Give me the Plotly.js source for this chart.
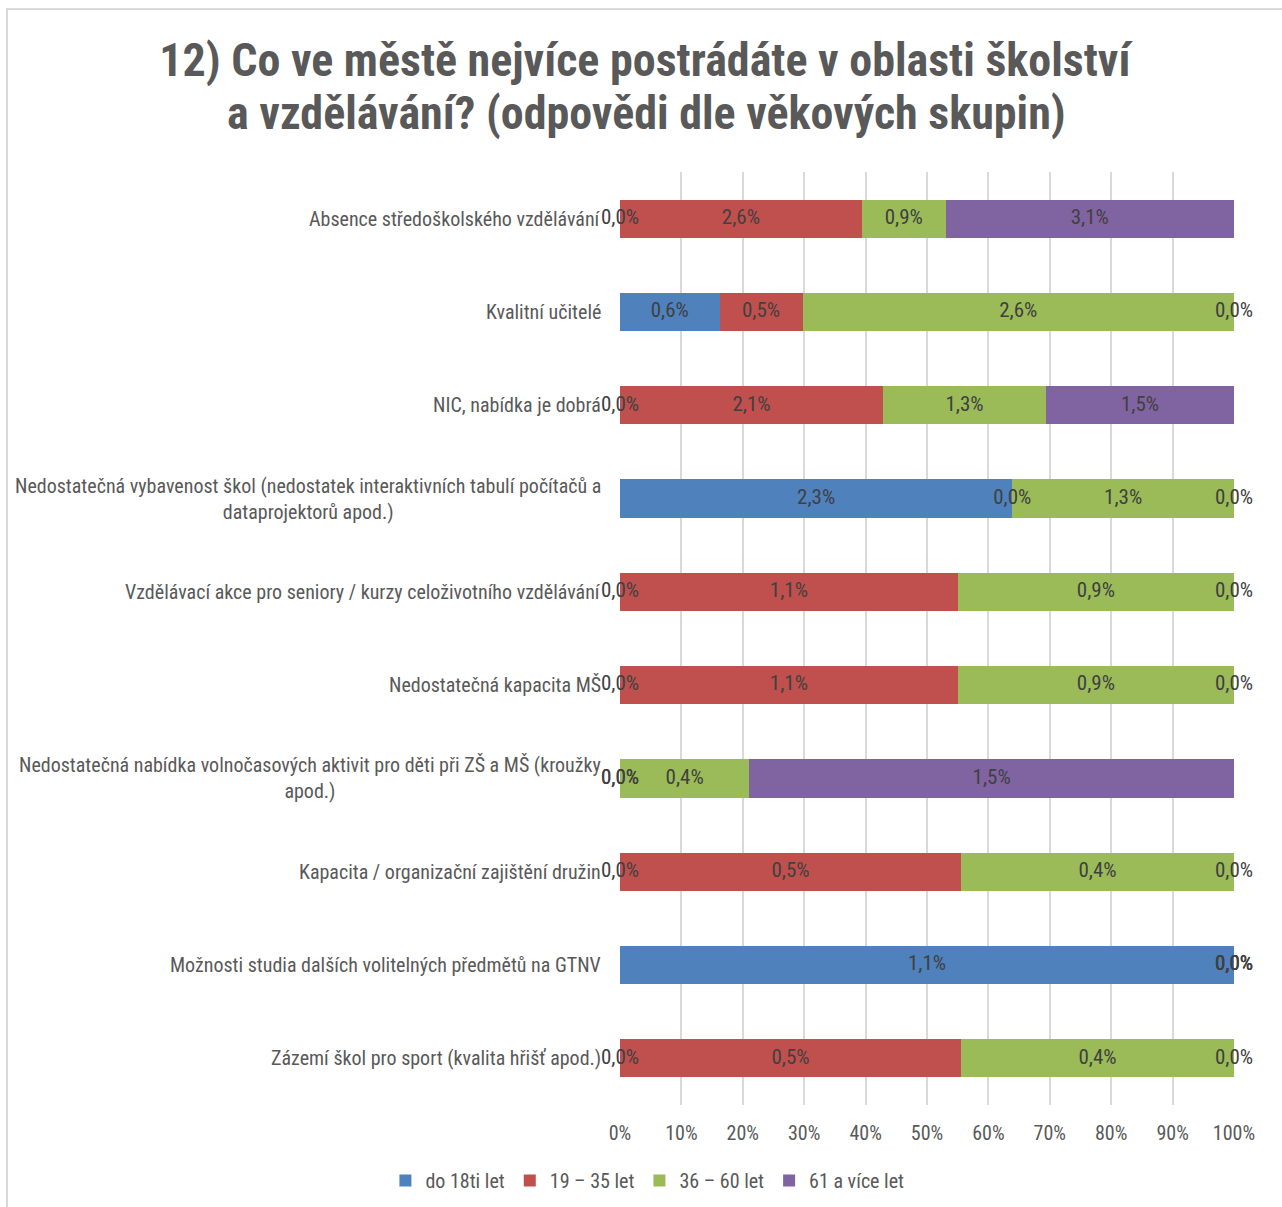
<!DOCTYPE html>
<html>
<head>
<meta charset="utf-8">
<script src="https://cdn.plot.ly/plotly-3.0.1.min.js"></script>
<style>
  body { margin: 0; background: #fff; }
  #frame { position: absolute; left: 6px; top: 8px; width: 1400px; height: 1400px;
           border-left: 2px solid #d9d9d9; border-top: 2px solid #d9d9d9; }
  #chart { position: absolute; left: 0; top: 0; width: 1282px; height: 1207px; }
</style>
</head>
<body>
<div id="frame"></div>
<div id="chart"></div>
<script>
// Q12 — what people miss in schooling / education, split by age group (100 % stacked)
const TITLE_LINES = [
  "12) Co ve městě nejvíce postrádáte v oblasti školství",
  "a vzdělávání? (odpovědi dle věkových skupin)",
];
const CATEGORIES = [
  "Absence středoškolského vzdělávání",
  "Kvalitní učitelé",
  "NIC, nabídka je dobrá",
  "Nedostatečná vybavenost škol (nedostatek interaktivních tabulí počítačů a<br>dataprojektorů apod.)",
  "Vzdělávací akce pro seniory / kurzy celoživotního vzdělávání",
  "Nedostatečná kapacita MŠ",
  "Nedostatečná nabídka volnočasových aktivit pro děti při ZŠ a MŠ (kroužky<br>apod.)",
  "Kapacita / organizační zajištění družin",
  "Možnosti studia dalších volitelných předmětů na GTNV",
  "Zázemí škol pro sport (kvalita hřišť apod.)",
];
const GROUPS = ["do 18ti let", "19 – 35 let", "36 – 60 let", "61 a více let"];
const COLORS = ["#4f81bd", "#c0504d", "#9bbb59", "#8064a2"];

// values in % of respondents, one array per age group
const UNDER18 = [0.0, 0.6, 0.0, 2.3, 0.0, 0.0, 0.0, 0.0, 1.1, 0.0];
const AGE19_35 = [2.6, 0.5, 2.1, 0.0, 1.1, 1.1, 0.0, 0.5, 0.0, 0.5];
const AGE36_60 = [0.9, 2.6, 1.3, 1.3, 0.9, 0.9, 0.4, 0.4, 0.0, 0.4];
const AGE61 = [3.1, 0.0, 1.5, 0.0, 0.0, 0.0, 1.5, 0.0, 0.0, 0.0];
const SERIES = [UNDER18, AGE19_35, AGE36_60, AGE61];

const NARROW = '"Liberation Sans Narrow", "Arial Narrow", "Roboto Condensed", sans-serif';
const fmt = v => v.toFixed(1).replace(".", ",") + "%";

const traces = SERIES.map((vals, i) => ({
  type: "bar", orientation: "h", name: GROUPS[i],
  y: CATEGORIES, x: vals,
  marker: { color: COLORS[i] },
  hoverinfo: "skip",
}));

// data labels: centre of each normalised segment (zero segments sit on the boundary)
const totals = CATEGORIES.map((_, j) => SERIES.reduce((s, arr) => s + arr[j], 0));
const labelX = [], labelY = [], labelT = [];
CATEGORIES.forEach((c, j) => {
  let cum = 0;
  SERIES.forEach(arr => {
    const w = arr[j] / totals[j] * 100;
    labelX.push(cum + w / 2);
    labelY.push(c);
    labelT.push(fmt(arr[j]));
    cum += w;
  });
});
traces.push({
  type: "scatter", mode: "text", x: labelX, y: labelY, text: labelT,
  textfont: { family: NARROW, size: 21, color: "#404040" },
  showlegend: false, hoverinfo: "skip", cliponaxis: false,
});

const annotations = CATEGORIES.map(c => ({
  xref: "paper", yref: "y", x: 0, y: c, xanchor: "right", yanchor: "middle",
  xshift: -17, text: c, showarrow: false, align: "center",
  font: { family: NARROW, size: 20, color: "#595959" },
}));

// second title line as its own annotation so the line spacing matches
annotations.push({
  xref: "paper", yref: "paper", x: 0, y: 1, xanchor: "center", yanchor: "middle",
  xshift: 646 - 620, yshift: 172 - 113, text: TITLE_LINES[1], showarrow: false,
  font: { family: NARROW, size: 46, color: "#595959", weight: "bold" },
});

const layout = {
  width: 1282, height: 1207,
  paper_bgcolor: "rgba(0,0,0,0)", plot_bgcolor: "rgba(0,0,0,0)",
  margin: { l: 620, r: 48, t: 172, b: 102 },
  font: { family: NARROW, color: "#595959" },
  title: {
    text: TITLE_LINES[0],
    font: { family: NARROW, size: 46, color: "#595959", weight: "bold" },
    x: 0.503, xanchor: "center", y: 1 - 60 / 1207, yanchor: "middle",
  },
  barmode: "stack", barnorm: "percent", bargap: 0.59,
  xaxis: {
    range: [0, 100], dtick: 10, ticksuffix: "%",
    showgrid: true, gridcolor: "#d9d9d9", gridwidth: 2,
    zeroline: false, showline: false, ticks: "", ticklabelstandoff: 14,
    tickfont: { family: NARROW, size: 20, color: "#595959" },
  },
  yaxis: {
    autorange: "reversed", showticklabels: false, showgrid: false,
    zeroline: false, showline: false, ticks: "",
  },
  legend: {
    orientation: "h", xref: "container", yref: "container", traceorder: "normal",
    x: 0.505, xanchor: "center", y: 0.022, yanchor: "middle",
    font: { family: NARROW, size: 20, color: "#595959" },
    itemwidth: 30, tracegroupgap: 0,
  },
  annotations,
};

Plotly.newPlot("chart", traces, layout, { displayModeBar: false, staticPlot: true });
</script>
</body>
</html>
